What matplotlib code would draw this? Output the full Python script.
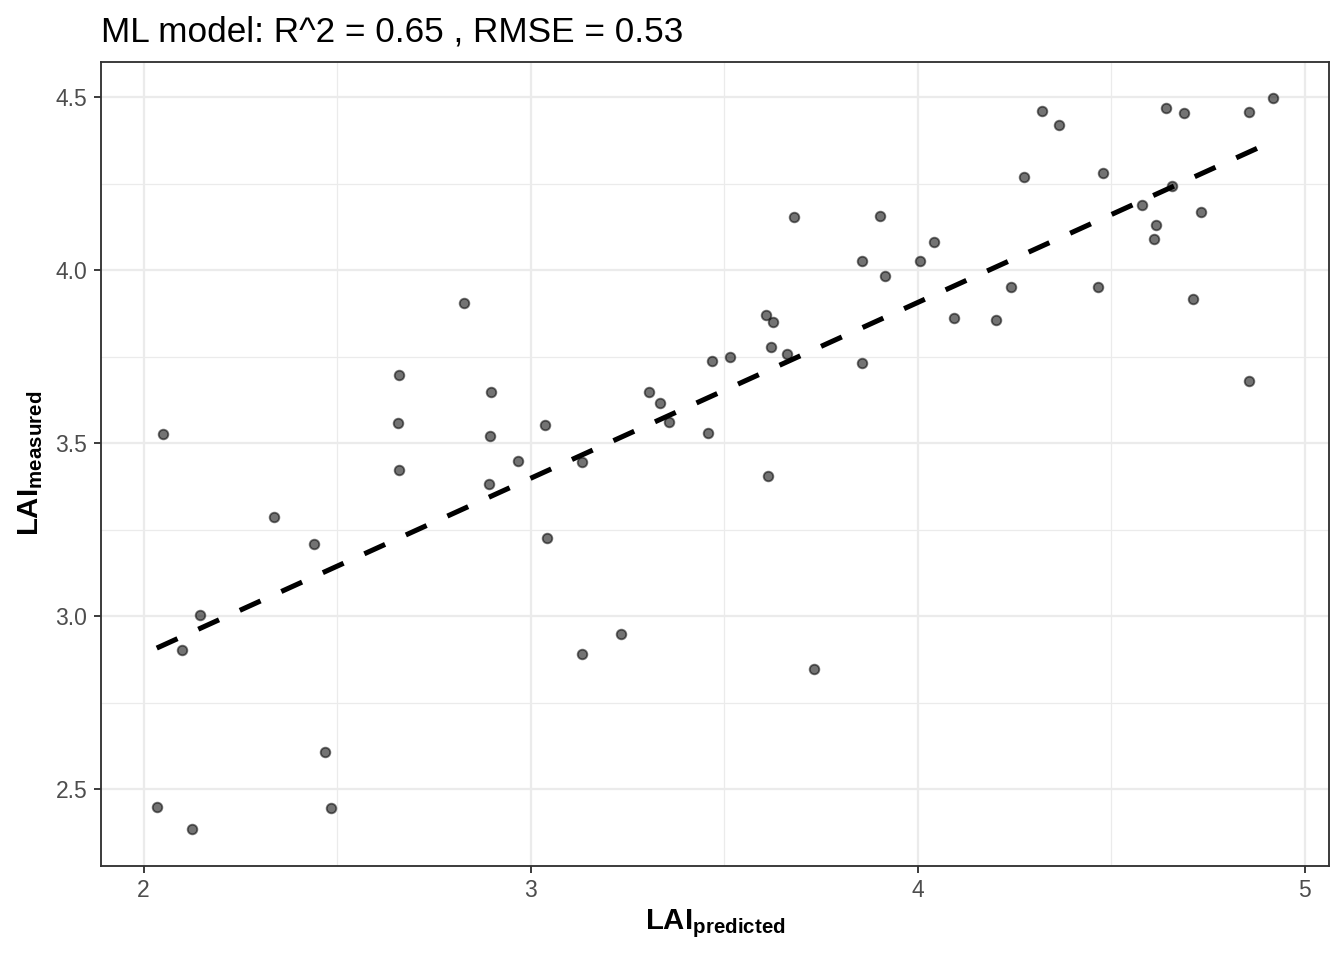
import numpy as np
import matplotlib.pyplot as plt
from matplotlib.ticker import MultipleLocator

# data
LAI_PREDICTED = [
    2.034, 2.126, 2.049, 2.100, 2.145, 2.338, 2.441, 2.469, 2.484, 2.660,
    2.658, 2.659, 2.828, 2.897, 2.895, 2.893, 2.966, 3.037, 3.041, 3.133,
    3.133, 3.233, 3.306, 3.334, 3.358, 3.458, 3.469, 3.515, 3.608, 3.627,
    3.621, 3.662, 3.612, 3.680, 3.732, 3.856, 3.855, 3.902, 3.916, 4.005,
    4.041, 4.093, 4.201, 4.241, 4.275, 4.322, 4.366, 4.465, 4.479, 4.580,
    4.616, 4.610, 4.641, 4.658, 4.688, 4.731, 4.711, 4.856, 4.918, 4.856,
]
LAI_MEASURED = [
    2.448, 2.385, 3.528, 2.903, 3.003, 3.288, 3.208, 2.607, 2.446, 3.697,
    3.559, 3.423, 3.904, 3.649, 3.520, 3.383, 3.450, 3.553, 3.226, 2.890,
    3.445, 2.950, 3.649, 3.617, 3.563, 3.530, 3.738, 3.749, 3.871, 3.851,
    3.777, 3.758, 3.406, 4.154, 2.848, 4.027, 3.732, 4.157, 3.983, 4.026,
    4.081, 3.862, 3.855, 3.953, 4.269, 4.461, 4.419, 3.953, 4.282, 4.188,
    4.130, 4.089, 4.470, 4.243, 4.455, 4.169, 3.917, 4.456, 4.497, 3.679,
]

# fitted line
FIT_SLOPE = 0.508
FIT_INTERCEPT = 1.875

TITLE = "ML model: R^2 = 0.65 , RMSE = 0.53"

# fonts
plt.rcParams['font.family'] = ['Liberation Sans', 'DejaVu Sans']
plt.rcParams['mathtext.fontset'] = 'custom'
plt.rcParams['mathtext.rm'] = 'Liberation Sans'
plt.rcParams['mathtext.bf'] = 'Liberation Sans:bold'


def expand(vals, frac=0.05):
    # ggplot style 5% padding
    lo, hi = min(vals), max(vals)
    pad = (hi - lo) * frac
    return lo - pad, hi + pad


def main():
    x = np.array(LAI_PREDICTED)
    y = np.array(LAI_MEASURED)

    fig = plt.figure(figsize=(7, 5), dpi=192)
    ax = fig.add_axes([0.0751, 0.0982, 0.9137, 0.8375])

    # grid
    ax.xaxis.set_major_locator(MultipleLocator(1))
    ax.xaxis.set_minor_locator(MultipleLocator(0.5))
    ax.yaxis.set_major_locator(MultipleLocator(0.5))
    ax.yaxis.set_minor_locator(MultipleLocator(0.25))
    ax.grid(which='major', color='#EBEBEB', linewidth=0.85)
    ax.grid(which='minor', color='#EBEBEB', linewidth=0.45)
    ax.set_axisbelow(True)

    # points
    ax.scatter(x, y, s=13, c='black', alpha=0.55, edgecolors='black',
               linewidths=0.7, zorder=3)

    # dashed fit line over the data range
    xs = np.array([x.min(), x.max()])
    ax.plot(xs, FIT_INTERCEPT + FIT_SLOPE * xs, color='black', linewidth=1.9,
            dashes=(4.5, 4.5), dash_capstyle='butt', zorder=4)

    ax.set_xlim(*expand(x))
    ax.set_ylim(*expand(y))

    # prettify
    for sp in ax.spines.values():
        sp.set_color('#333333')
        sp.set_linewidth(0.7)
    ax.tick_params(which='major', length=2.6, width=0.7, color='#333333',
                   labelcolor='#4D4D4D', labelsize=8.6, pad=2.5)
    ax.tick_params(which='minor', length=0)
    ax.yaxis.set_major_formatter(plt.FormatStrFormatter('%.1f'))

    ax.set_xlabel(r'$\mathbf{LAI_{predicted}}$', fontsize=11.0, labelpad=2)
    ax.set_ylabel(r'$\mathbf{LAI_{measured}}$', fontsize=11.0, labelpad=4)

    fig.text(101 / 1344, 1 - 42 / 960, TITLE, fontsize=13.2, ha='left', va='baseline')

    fig.savefig('out.png', dpi=192)
    return


if __name__ == '__main__':
    main()
